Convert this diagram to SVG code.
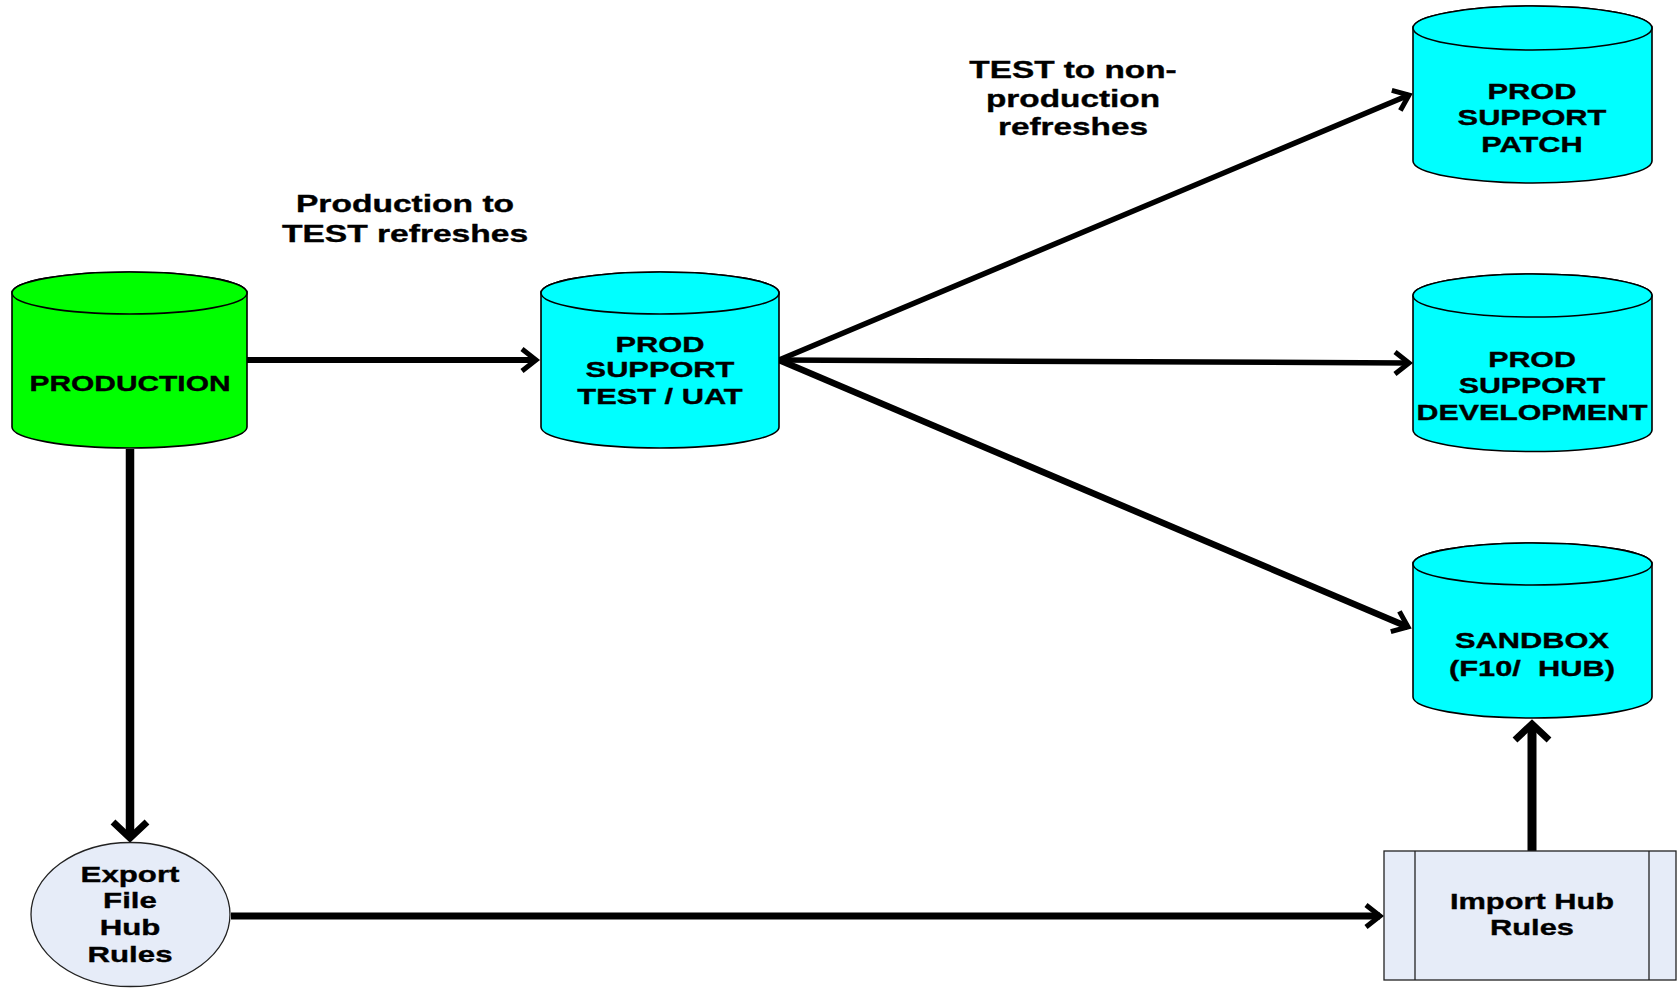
<svg xmlns="http://www.w3.org/2000/svg" width="1677" height="988" viewBox="0 0 1677 988">
<style>
.cyl{stroke:#000;stroke-width:1.6}
.green{fill:#00FF00}
.cyan{fill:#00FFFF}
.pale{fill:#E6ECF8;stroke:#222;stroke-width:1.3}
.t{font-family:"Liberation Sans",Arial,sans-serif;font-weight:bold;font-size:22px;text-anchor:middle;fill:#000;stroke:#000;stroke-width:0.35;white-space:pre}
.lbl{font-family:"Liberation Sans",Arial,sans-serif;font-weight:bold;font-size:23px;text-anchor:middle;fill:#000;stroke:#000;stroke-width:0.35}
.c{fill:none;stroke:#000}
</style>
<defs>
<marker id="sm" markerUnits="userSpaceOnUse" viewBox="-30 -20 40 40" markerWidth="40" markerHeight="40" refX="0" refY="0" orient="auto">
<path d="M-14,-11 L0,0 L-14,11" fill="none" stroke="#000" stroke-width="5"/>
</marker>
<marker id="lg" markerUnits="userSpaceOnUse" viewBox="-30 -25 40 50" markerWidth="40" markerHeight="50" refX="0" refY="0" orient="auto">
<path d="M-16,-17 L0,0 L-16,17" fill="none" stroke="#000" stroke-width="7"/>
</marker>
</defs>
<rect width="1677" height="988" fill="#fff"/>
<g id="connectors">
<path class="c" d="M247,360 H536" stroke-width="6" marker-end="url(#sm)"/>
<path class="c" d="M130,449 V838" stroke-width="8.5" marker-end="url(#lg)"/>
<path class="c" d="M231,916 H1380" stroke-width="7" marker-end="url(#sm)"/>
<path class="c" d="M1532,851 V724" stroke-width="9" marker-end="url(#lg)"/>
<path class="c" d="M779,360 L1409,95" stroke-width="5.5" marker-end="url(#sm)"/>
<path class="c" d="M779,360 L1409,363" stroke-width="5.5" marker-end="url(#sm)"/>
<path class="c" d="M779,360 L1408,627" stroke-width="6.5" marker-end="url(#sm)"/>
</g>
<g id="production">
<path class="cyl green" d="M12,293 V427 A117.5,21 0 0 0 247,427 V293 A117.5,21 0 0 0 12,293 Z"/>
<ellipse class="cyl green" cx="129.5" cy="293" rx="117.5" ry="21"/>
<text class="t" transform="translate(130 0) scale(1.36 1)" x="0" y="391">PRODUCTION</text>
</g>
<g id="test">
<path class="cyl cyan" d="M541,293 V427 A119,21 0 0 0 779,427 V293 A119,21 0 0 0 541,293 Z"/>
<ellipse class="cyl cyan" cx="660" cy="293" rx="119" ry="21"/>
<text class="t" transform="translate(660 0) scale(1.4 1)"><tspan x="0" y="352">PROD</tspan><tspan x="0" y="377">SUPPORT</tspan><tspan x="0" y="404">TEST / UAT</tspan></text>
</g>
<g id="patch">
<path class="cyl cyan" d="M1413,28 V161 A119.5,22 0 0 0 1652,161 V28 A119.5,22 0 0 0 1413,28 Z"/>
<ellipse class="cyl cyan" cx="1532.5" cy="28" rx="119.5" ry="22"/>
<text class="t" transform="translate(1532 0) scale(1.4 1)"><tspan x="0" y="99">PROD</tspan><tspan x="0" y="125">SUPPORT</tspan><tspan x="0" y="152">PATCH</tspan></text>
</g>
<g id="development">
<path class="cyl cyan" d="M1413,295.5 V430 A119.5,21.5 0 0 0 1652,430 V295.5 A119.5,21.5 0 0 0 1413,295.5 Z"/>
<ellipse class="cyl cyan" cx="1532.5" cy="295.5" rx="119.5" ry="21.5"/>
<text class="t" transform="translate(1532 0) scale(1.38 1)"><tspan x="0" y="367">PROD</tspan><tspan x="0" y="393">SUPPORT</tspan><tspan x="0" y="420">DEVELOPMENT</tspan></text>
</g>
<g id="sandbox">
<path class="cyl cyan" d="M1413,564 V697 A119.5,21 0 0 0 1652,697 V564 A119.5,21 0 0 0 1413,564 Z"/>
<ellipse class="cyl cyan" cx="1532.5" cy="564" rx="119.5" ry="21"/>
<text class="t" transform="translate(1532 0) scale(1.4 1)" xml:space="preserve"><tspan x="0" y="648">SANDBOX</tspan><tspan x="0" y="676">(F10/  HUB)</tspan></text>
</g>
<g id="export">
<ellipse class="pale" cx="130.5" cy="914.5" rx="99.5" ry="72"/>
<text class="t" transform="translate(130 0) scale(1.42 1)"><tspan x="0" y="882">Export</tspan><tspan x="0" y="908">File</tspan><tspan x="0" y="935">Hub</tspan><tspan x="0" y="962">Rules</tspan></text>
</g>
<g id="import">
<rect class="pale" x="1384" y="851" width="292" height="129"/>
<line x1="1415" y1="851" x2="1415" y2="980" stroke="#222" stroke-width="1.3"/>
<line x1="1649" y1="851" x2="1649" y2="980" stroke="#222" stroke-width="1.3"/>
<text class="t" transform="translate(1532 0) scale(1.4 1)"><tspan x="0" y="909">Import Hub</tspan><tspan x="0" y="935">Rules</tspan></text>
</g>
<g id="label-prod-test">
<text class="lbl" transform="translate(405 0) scale(1.46 1)"><tspan x="0" y="212">Production to</tspan><tspan x="0" y="242">TEST refreshes</tspan></text>
</g>
<g id="label-test-nonprod">
<text class="lbl" transform="translate(1073 0) scale(1.45 1)"><tspan x="0" y="78">TEST to non-</tspan><tspan x="0" y="107">production</tspan><tspan x="0" y="135">refreshes</tspan></text>
</g>
</svg>
